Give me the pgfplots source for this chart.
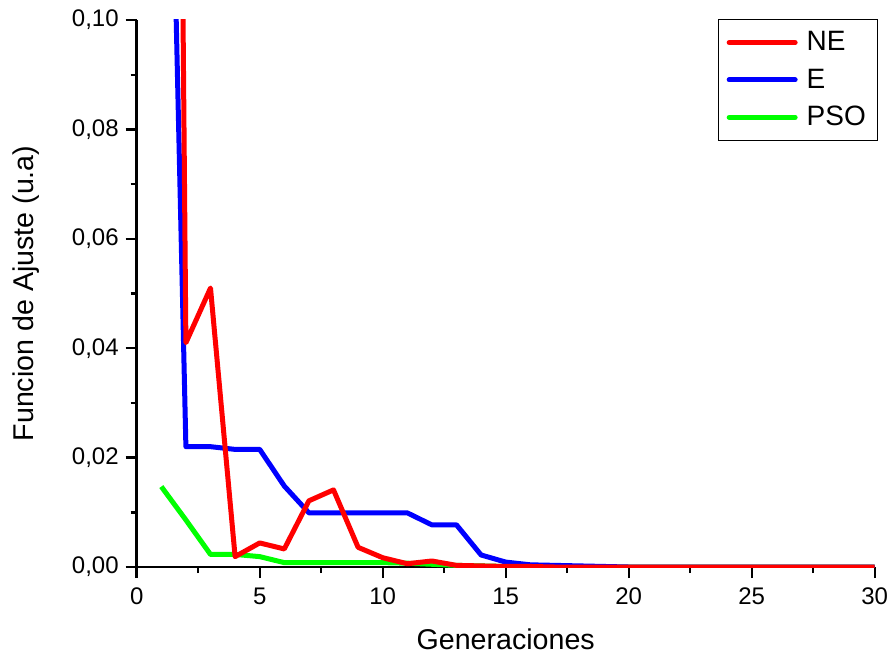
\documentclass[border=0pt]{standalone}
\usepackage{pgfplots}
\pgfplotsset{compat=1.18}
\usepackage{fontspec}
\setmainfont{Liberation Sans}

\definecolor{neRed}{RGB}{255,0,0}
\definecolor{eBlue}{RGB}{0,0,255}
\definecolor{psoGreen}{RGB}{0,255,0}

\begin{document}
\begin{tikzpicture}
\begin{axis}[
  scale only axis,
  width=369pt, height=273.5pt,
  xmin=0, xmax=30, ymin=0, ymax=0.1,
  axis x line*=bottom, axis y line*=left,
  axis line style={-, line width=1.4pt},
  tick align=outside,
  major tick length=5.5pt, minor tick length=3pt,
  every tick/.style={black, line width=1.2pt},
  xtick={0,5,...,30}, ytick={0,0.02,0.04,0.06,0.08,0.1},
  minor x tick num=1, minor y tick num=1,
  /pgf/number format/assume math mode=true,
  tick label style={font=\fontsize{12}{14}\selectfont},
  yticklabel style={/pgf/number format/.cd, fixed, fixed zerofill, precision=2, use comma},
  xticklabel style={/pgf/number format/.cd, fixed, precision=0},
  xticklabel shift=1.5pt,
  scaled y ticks=false,
  xlabel={Generaciones},
  ylabel={Funcion de Ajuste (u.a)},
  label style={font=\fontsize{14.3}{17}\selectfont},
  xlabel style={at={(axis description cs:0.5,-0.133)}, anchor=center},
  ylabel style={at={(axis description cs:-0.150,0.5)}, anchor=center},
  every axis plot/.append style={line width=2.5pt, line join=round},
  reverse legend,
  legend style={at={(1.005,1.002)}, anchor=north east, draw=black, line width=0.6pt,
    font=\fontsize{14}{16}\selectfont, inner xsep=4pt, inner ysep=4pt,
    row sep=3.5pt},
  legend cell align=left,
  legend image code/.code={\draw[#1, line width=2.5pt, line cap=round] (0pt,0pt) -- (33pt,0pt);
    \path (35.5pt,0pt);},
]
% PSO
\addplot[psoGreen] coordinates {
 (1,0.0147) (2,0.0086) (3,0.0023) (4,0.0023) (5,0.0019) (6,0.0008) (7,0.0008)
 (8,0.0008) (9,0.0008) (10,0.0008) (11,0.0007) (12,0.0005) (13,0.0003) (14,0.0002)
 (15,0.0001) (16,0.0001) (17,0) (18,0) (19,0) (20,0) (21,0) (22,0) (23,0) (24,0)
 (25,0) (26,0) (27,0) (28,0) (29,0) (30,0)};
\addlegendentry{PSO}
% E
\addplot[eBlue] coordinates {
 (1,0.22) (2,0.022) (3,0.022) (4,0.0215) (5,0.0215) (6,0.0148) (7,0.0099)
 (8,0.0099) (9,0.0099) (10,0.0099) (11,0.0099) (12,0.0077) (13,0.0077) (14,0.0022)
 (15,0.0009) (16,0.0004) (17,0.0003) (18,0.0002) (19,0.0001) (20,0) (21,0) (22,0)
 (23,0) (24,0) (25,0) (26,0) (27,0) (28,0) (29,0) (30,0)};
\addlegendentry{E}
% NE
\addplot[neRed] coordinates {
 (1,0.55) (2,0.041) (3,0.051) (4,0.0019) (5,0.0044) (6,0.0033) (7,0.0121)
 (8,0.0141) (9,0.0036) (10,0.0017) (11,0.0006) (12,0.0011) (13,0.0003) (14,0.0002)
 (15,0.0001) (16,0.0001) (17,0) (18,0) (19,0) (20,0) (21,0) (22,0) (23,0) (24,0)
 (25,0) (26,0) (27,0) (28,0) (29,0) (30,0)};
\addlegendentry{NE}
\end{axis}
\pgfresetboundingbox
\path (current axis.south west) ++(-68.35pt,-43.5pt) coordinate (bl);
\path[use as bounding box] (bl) rectangle ++(446pt,327pt);
\end{tikzpicture}
\end{document}
